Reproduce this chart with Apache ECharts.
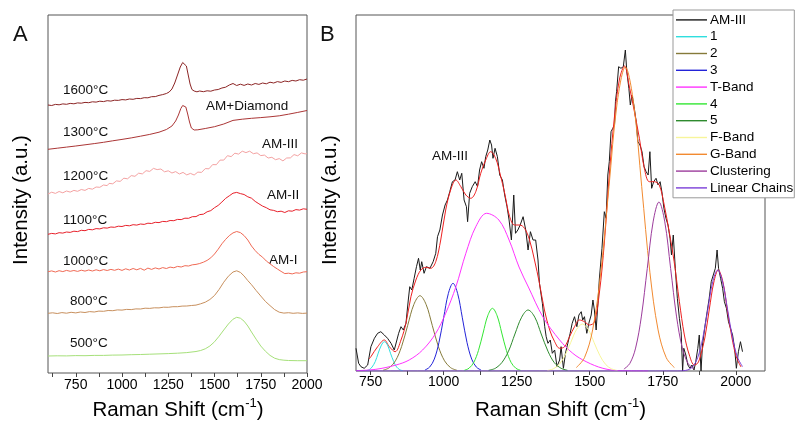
<!DOCTYPE html>
<html><head><meta charset="utf-8">
<script src="https://cdn.jsdelivr.net/npm/echarts@6/dist/echarts.min.js"></script>
<style>html,body{margin:0;padding:0;background:#fff}#c{width:795px;height:423px}</style>
</head><body><div id="c"></div>
<script>
const FONT = '"Liberation Sans", Arial, Helvetica, sans-serif';

// ---------- Panel A : spectra (Raman shift, offset intensity) ----------
const ticksA = [625,750,875,1000,1125,1250,1375,1500,1625,1750,1875,2000];
const labelsA = [750,1000,1250,1500,1750,2000];
const a1600 = [[600,268],[620,267.5],[640,268.6],[660,268.2],[680,269.1],[700,268.7],[720,269.6],[740,269.2],[760,270.1],[780,269.8],[800,270.6],[820,270.3],[840,271.2],[860,270.9],[880,271.8],[900,271.4],[920,272.3],[940,271.9],[960,272.8],[980,272.6],[1000,273.4],[1020,273.1],[1040,274.0],[1060,273.7],[1080,274.6],[1100,274.4],[1120,275.3],[1140,275.2],[1160,276.3],[1180,276.4],[1200,277.6],[1220,278.4],[1240,279.5],[1255,281],[1270,284],[1285,290],[1300,298],[1315,306],[1328,310.5],[1338,311],[1348,307],[1358,298],[1368,289],[1378,283.5],[1390,282],[1405,281.2],[1420,282],[1440,281.3],[1460,282.2],[1480,281.8],[1500,283],[1520,283.5],[1540,285],[1560,285.8],[1580,288],[1600,289.5],[1620,287.5],[1640,288.8],[1660,287.6],[1680,289],[1700,288],[1720,289.5],[1740,288.6],[1760,290],[1780,289.2],[1800,290.8],[1820,290],[1840,291.4],[1860,290.6],[1880,292],[1900,291.3],[1920,292.6],[1940,292],[1960,293.3],[1980,292.8],[2000,294]];
const a1300 = [[600,223.7],[650,224.8],[700,225.9],[750,227],[800,228.2],[850,229.4],[900,230.7],[950,232.2],[1000,233.6],[1050,235.1],[1100,236.8],[1150,238.6],[1200,240.8],[1240,243.5],[1270,247],[1290,252],[1305,258],[1318,264.5],[1328,267.5],[1336,268.2],[1345,266],[1355,259],[1365,251],[1375,245],[1390,243],[1410,243.2],[1450,244.5],[1500,246.3],[1550,249],[1600,252.6],[1650,253.8],[1700,254.7],[1750,255.4],[1800,256.2],[1850,257.2],[1900,258.8],[1950,260.6],[2000,262.5]];
const a1200 = [[600,179],[610,180.4],[620,180.8],[630,179.4],[640,179.6],[650,181],[660,181.5],[670,180],[680,180.2],[690,181.8],[700,182],[710,180.5],[720,180.9],[730,182.3],[740,182.6],[750,181.2],[760,181.7],[770,183.2],[780,183.5],[790,182.2],[800,182.6],[810,184.2],[820,184.6],[830,183.3],[840,183.8],[850,185.6],[860,186],[870,185.1],[880,185.7],[890,187.6],[900,188],[910,186.9],[920,187.4],[930,189.6],[940,190],[950,189.2],[960,189.9],[970,192.1],[980,192.5],[990,191.6],[1000,192.3],[1010,194.8],[1020,195.3],[1030,194.2],[1040,195],[1050,197.4],[1060,197.8],[1070,196.7],[1080,197.4],[1090,199.8],[1100,200.3],[1110,199.1],[1120,200],[1130,202.3],[1140,202.8],[1150,201.6],[1160,202.4],[1170,204.6],[1180,205],[1190,203.4],[1200,202.6],[1210,204],[1220,203.2],[1230,201.2],[1240,200.5],[1250,202.2],[1260,201.8],[1270,200],[1280,199.5],[1290,201.4],[1300,201],[1310,199],[1320,198.7],[1330,200.6],[1340,200.2],[1350,198.1],[1360,197.5],[1370,199.6],[1380,199.3],[1390,198],[1400,198.6],[1410,200.9],[1420,201.5],[1430,200.6],[1440,201.8],[1450,204.4],[1460,205],[1470,204.2],[1480,205.6],[1490,208.4],[1500,209],[1510,208.3],[1520,209.8],[1530,212.9],[1540,213.5],[1550,212.9],[1560,214.2],[1570,217.3],[1580,217.8],[1590,216.4],[1600,217.2],[1610,219.8],[1620,220.4],[1630,218.9],[1640,219.6],[1650,221.8],[1660,222.2],[1670,220.4],[1680,220],[1690,221.8],[1700,221.4],[1710,219.3],[1720,218.8],[1730,220.1],[1740,219.6],[1750,217.4],[1760,216.8],[1770,217.9],[1780,217.3],[1790,215],[1800,214.6],[1810,215.7],[1820,215.2],[1830,213.3],[1840,212.8],[1850,214.4],[1860,214],[1870,212.1],[1880,212.5],[1890,215],[1900,215.6],[1910,215.1],[1920,216],[1930,218.4],[1940,219],[1950,217.2],[1960,217.6],[1970,220.1],[1980,220.5],[1990,219.1],[2000,219.5]];
const a1100 = [[600,138.7],[620,139.6],[640,139.1],[660,140.3],[680,139.9],[700,141],[720,140.6],[740,141.8],[760,141.4],[780,142.7],[800,142.3],[820,143.6],[840,143.2],[860,144.4],[880,144.1],[900,145.2],[920,144.9],[940,146],[960,145.7],[980,146.8],[1000,146.5],[1020,147.6],[1040,147.2],[1060,148.3],[1080,147.9],[1100,149],[1120,148.6],[1140,149.8],[1160,149.5],[1180,150.7],[1200,150.4],[1220,151.6],[1240,151.3],[1260,152.5],[1280,152.3],[1300,153.6],[1320,153.4],[1340,154.8],[1360,154.7],[1380,156.3],[1400,156.4],[1420,158.4],[1440,158.8],[1460,161.2],[1480,162.4],[1500,165.3],[1520,167.6],[1540,171],[1560,174.6],[1580,177.2],[1600,179.8],[1620,180.6],[1640,179.4],[1660,178.5],[1680,176.2],[1700,174.8],[1720,171.6],[1740,169.2],[1760,166.9],[1780,165.3],[1800,163.2],[1820,162.6],[1840,161.3],[1860,161.8],[1880,160.5],[1900,162.2],[1920,161.8],[1940,163.4],[1960,162.9],[1980,164.2],[2000,163.7]];
const a1000 = [[600,101.3],[620,102.1],[640,101],[660,102.3],[680,101.4],[700,102.6],[720,101.7],[740,102.5],[760,101.6],[780,102.8],[800,101.9],[820,103],[840,102],[860,103.2],[880,102.2],[900,103.4],[920,102.5],[940,103.6],[960,102.7],[980,103.9],[1000,102.6],[1020,104.2],[1040,103],[1060,104.5],[1080,103.2],[1100,104.6],[1120,102.8],[1140,104.9],[1160,103.6],[1180,105.1],[1200,104],[1220,105.4],[1240,104.5],[1260,105.9],[1280,105.2],[1300,106.6],[1320,106],[1340,107.3],[1360,107],[1380,108.2],[1400,108.6],[1420,109.5],[1440,110.8],[1460,112.6],[1480,115.2],[1500,119],[1520,123.8],[1540,129.2],[1560,133.6],[1580,137.4],[1600,140.1],[1620,141.5],[1640,140.4],[1660,137.4],[1680,133],[1700,127],[1720,122.4],[1740,118.6],[1760,115.8],[1780,112],[1800,109.2],[1820,106.4],[1840,104],[1860,101.6],[1880,99.4],[1900,99.8],[1920,99.1],[1940,100.2],[1960,99.8],[1980,101],[2000,101.3]];
const a800 = [[600,59.7],[625,60.2],[650,59.5],[675,60.4],[700,59.8],[725,60.7],[750,60.1],[775,61],[800,60.5],[825,61.4],[850,61],[875,61.9],[900,61.7],[925,62.5],[950,62.3],[975,63.1],[1000,62.9],[1025,63.6],[1050,63.4],[1075,64.1],[1100,64],[1125,64.8],[1150,64.6],[1175,65.2],[1200,65.1],[1225,65.8],[1250,65.7],[1275,66.3],[1300,66.3],[1325,66.9],[1350,67],[1375,67.5],[1400,67.9],[1425,69.2],[1450,70.8],[1475,73.5],[1500,77.5],[1525,83.6],[1550,90.8],[1575,96.8],[1600,101],[1620,102.2],[1640,100.6],[1660,97],[1680,92.4],[1700,88.3],[1725,82.5],[1750,77],[1775,71.6],[1800,67.4],[1825,63.4],[1850,60.8],[1875,59.9],[1900,60.3],[1925,59.7],[1950,60.1],[1975,59.6],[2000,59.9]];
const a500 = [[600,17],[650,17.2],[700,17.1],[750,17.4],[800,17.3],[850,17.6],[900,17.6],[950,17.9],[1000,18],[1050,18.3],[1100,18.5],[1150,18.8],[1200,19.1],[1250,19.4],[1300,19.8],[1350,20.4],[1400,21.5],[1425,22.5],[1450,24.2],[1475,27],[1500,31.2],[1525,36.8],[1550,43],[1575,49],[1600,53.8],[1620,55.7],[1640,54.8],[1660,51.8],[1680,47],[1700,41],[1725,33.8],[1750,27],[1775,21.8],[1800,17.6],[1825,14.8],[1850,13.4],[1875,12.8],[1900,12.5],[1950,12.3],[2000,12.3]];

// ---------- Panel B : AM-III spectrum and fitted bands ----------
const ticksB = [750,875,1000,1125,1250,1375,1500,1625,1750,1875,2000];
const labelsB = [750,1000,1250,1500,1750,2000];
const bAM3 = [[700,22.7],[709,7.7],[717,4.3],[728,2.7],[740,6],[751,24.3],[763,32.7],[774,37.7],[785,39.3],[797,36],[808,32.7],[820,27.7],[831,21],[837,22.7],[846,37.7],[854,44.3],[862,41],[871,47.7],[879,71],[884,84.3],[891,81],[899,92.7],[907,104.3],[914,112.7],[920,101],[925,109.3],[933,97.7],[941,104.3],[953,102.7],[964,109.3],[973,117.7],[979,134.3],[987,141],[996,156],[1005,166],[1013,171],[1021,179.3],[1030,189.3],[1039,191],[1047,199.3],[1055,191],[1062,197.7],[1070,171],[1078,164.3],[1082,149.3],[1089,177.7],[1098,184.3],[1108,189.3],[1116,184.3],[1123,201],[1130,209.3],[1138,202.7],[1144,214.3],[1151,221],[1158,231],[1164,226],[1169,212.7],[1176,222.7],[1184,214.3],[1192,196],[1201,191],[1209,176],[1217,164.3],[1224,151],[1232,131],[1240,176],[1246,137.7],[1254,141],[1262,146],[1272,154.3],[1281,141],[1289,121],[1297,139.3],[1306,131],[1315,131],[1323,111],[1328,87.7],[1338,67.7],[1346,44.3],[1351,34.3],[1357,27.7],[1365,31],[1372,17.7],[1380,21],[1388,4.3],[1397,11],[1402,24.3],[1410,2.7],[1417,17.7],[1425,27.7],[1433,37.7],[1440,47.7],[1448,54.3],[1456,44.3],[1463,56],[1471,59.3],[1476,51],[1482,54.3],[1490,37.7],[1497,47.7],[1505,56],[1511,71],[1516,61],[1522,41],[1528,67.7],[1533,92],[1542,122.7],[1550,159.3],[1556,152.7],[1562,196],[1567,209.3],[1573,239.3],[1579,242.7],[1585,246],[1588,269.3],[1592,279.3],[1599,304.3],[1607,302.7],[1615,304.3],[1622,321],[1627,299.3],[1634,282.7],[1639,266],[1645,276],[1652,264.3],[1659,249.3],[1665,229.3],[1672,226],[1679,219.3],[1686,204.3],[1693,199.3],[1700,196],[1706,219.3],[1712,182.7],[1719,189.3],[1727,192.7],[1734,186],[1741,189.3],[1747,179.3],[1754,162.7],[1761,152.7],[1768,146],[1775,132.7],[1780,116],[1786,136],[1793,102.7],[1800,72.7],[1807,52.7],[1813,39.3],[1818,0],[1822,22.7],[1829,16],[1836,6],[1843,2.7],[1850,6],[1857,1],[1863,9.3],[1870,22.7],[1875,36],[1881,0],[1886,26],[1895,46],[1902,59.3],[1909,72.7],[1916,89.3],[1923,96],[1930,102.7],[1936,121],[1941,102.7],[1948,92.7],[1955,82.7],[1961,69.3],[1968,62.7],[1975,49.3],[1982,42.7],[1989,36],[1996,22.7],[2002,2.7],[2009,19.3],[2016,29.3],[2023,19.3]];
const bFit = [[745,12],[751,14.3],[774,24.3],[797,31],[814,24.3],[834,19.3],[854,31],[871,47.7],[888,74.3],[905,91],[922,101],[939,103.7],[956,102.7],[973,109.3],[990,131],[1007,161],[1024,181],[1042,191],[1059,184.3],[1076,176],[1093,172.7],[1110,179.3],[1127,197.7],[1144,211],[1161,219.3],[1178,212.7],[1195,195],[1209,177.7],[1226,154.3],[1243,146],[1260,146],[1277,142.7],[1294,131],[1311,111],[1328,87.7],[1345,61],[1363,41],[1380,29.3],[1397,22.7],[1414,24.3],[1431,34.3],[1448,44.3],[1465,51],[1482,49.3],[1499,46],[1516,49],[1533,78],[1550,128],[1568,200],[1585,255],[1602,292],[1619,305],[1636,284],[1653,259.3],[1670,232.7],[1687,202.7],[1704,189.3],[1721,189.3],[1738,186],[1755,166],[1772,139.3],[1789,109.3],[1807,69.3],[1824,36],[1841,16],[1858,6],[1870,8],[1880,16],[1894,33],[1909,61],[1925,89],[1940,101],[1956,89],[1971,61],[1987,33],[2002,14],[2018,4]];
const band1 = [[734,0.3],[745,1.3],[755,4.0],[766,9.5],[776,17.8],[787,25.9],[797,29.3],[808,25.9],[818,17.8],[829,9.5],[839,4.0],[850,1.3],[860,0.3]];
const band2 = [[793,0.8],[814,3.3],[835,10.2],[856,24.4],[877,45.7],[898,66.5],[919,75.3],[940,66.5],[961,45.7],[982,24.4],[1003,10.2],[1024,3.3],[1045,0.8]];
const band3 = [[936,1.0],[952,3.9],[968,11.9],[984,28.5],[1000,53.2],[1016,77.4],[1032,87.7],[1048,77.4],[1064,53.2],[1080,28.5],[1096,11.9],[1112,3.9],[1128,1.0]];
const bandT = [[700,0.3],[768,1.7],[837,6],[882,11],[928,21],[973,37.7],[1007,57.7],[1042,84.3],[1076,117.7],[1110,144.3],[1147,157.7],[1189,151],[1224,131],[1258,104],[1290,84],[1340,54],[1397,31],[1442,17.7],[1488,9.3],[1545,2.7],[1602,0.3],[1700,0]];
const band4 = [[1071,0.7],[1087,2.8],[1103,8.5],[1119,20.4],[1135,38.0],[1151,55.3],[1167,62.7],[1183,55.3],[1199,38.0],[1215,20.4],[1231,8.5],[1247,2.8],[1263,0.7]];
const band5 = [[1154,0.7],[1177,2.7],[1199,8.3],[1222,19.8],[1244,37.0],[1267,53.8],[1289,61],[1312,53.8],[1334,37.0],[1357,19.8],[1379,8.3],[1402,2.7],[1424,0.7]];
const bandF = [[1355,0.5],[1375,2.1],[1395,6.4],[1415,15.3],[1435,28.5],[1455,41.5],[1475,47],[1495,41.5],[1515,28.5],[1535,15.3],[1555,6.4],[1575,2.1],[1595,0.5]];
const bandG = [[1454,3.4],[1482,13.3],[1510,41.1],[1538,98.7],[1566,184.4],[1594,268.3],[1622,304],[1650,268.3],[1678,184.4],[1706,98.7],[1734,41.1],[1762,13.3],[1790,3.4]];
const bandC = [[1617,1.9],[1637,7.4],[1657,22.9],[1677,54.9],[1697,102.5],[1717,149.1],[1737,169],[1757,149.1],[1777,102.5],[1797,54.9],[1817,22.9],[1837,7.4],[1857,1.9]];
const bandL = [[700,0],[1800,0],[1836,1.1],[1853,4.4],[1870,13.7],[1887,32.8],[1904,61.3],[1921,89.1],[1938,101],[1955,89.1],[1972,61.3],[1989,32.8],[2006,13.7],[2023,4.4]];
const legendNames = ['AM-III','1','2','3','T-Band','4','5','F-Band','G-Band','Clustering','Linear Chains'];

function ln(name, data, color, g, smooth, width) {
  return {
    type: 'line', name: name, data: data, xAxisIndex: g, yAxisIndex: g,
    symbol: 'none', showSymbol: false, smooth: smooth ? 0.35 : false,
    lineStyle: { color: color, width: width || 1 }, itemStyle: { color: color },
    silent: true, animation: false
  };
}

const chart = echarts.init(document.getElementById('c'), null, { renderer: 'canvas' });
const axisX = (g, min, max, ticks, labels, margin) => ({
  gridIndex: g, type: 'value', min: min, max: max,
  axisLine: { show: false }, splitLine: { show: false },
  axisTick: { show: true, length: 4, lineStyle: { color: '#444' }, customValues: ticks },
  axisLabel: { customValues: labels, fontSize: 14, color: '#000', fontFamily: FONT, margin: margin, formatter: v => String(v) }
});
function txt(x, y, s, size, align) {
  return { type: 'text', x: x, y: y, style: { text: s, fontSize: size, fontFamily: FONT, fill: '#111', align: align || 'left', verticalAlign: 'middle' } };
}
const richTitle = { n: { fontSize: 20.5, fontFamily: FONT, fill: '#000', color: '#000', lineHeight: 26 }, s: { fontSize: 13, fontFamily: FONT, color: '#000', verticalAlign: 'top', lineHeight: 14 } };
function xTitle(x) {
  return { type: 'text', x: x, y: 410, style: { text: '{n|Raman Shift (cm}{s|-1}{n|)}', rich: richTitle, align: 'center', verticalAlign: 'middle', fill: '#000' } };
}
function yTitle(x) {
  return { type: 'text', x: x, y: 200, rotation: Math.PI / 2, style: { text: 'Intensity (a.u.)', fontSize: 20.5, fontFamily: FONT, fill: '#000', align: 'center', verticalAlign: 'middle' } };
}

chart.setOption({
  animation: false,
  backgroundColor: '#fff',
  grid: [
    { left: 48, top: 15, width: 259, height: 358, show: true, borderColor: '#555', borderWidth: 1 },
    { left: 356, top: 15, width: 409, height: 356, show: true, borderColor: '#555', borderWidth: 1 }
  ],
  xAxis: [axisX(0, 600, 2000, ticksA, labelsA, 5), axisX(1, 700, 2100, ticksB, labelsB, 4)],
  yAxis: [
    { gridIndex: 0, type: 'value', min: 0, max: 358, show: false },
    { gridIndex: 1, type: 'value', min: 0, max: 356, show: false }
  ],
  legend: {
    data: legendNames.map(n => ({ name: n, icon: 'rect' })), orient: 'vertical', left: 673, top: 10,
    padding: [1.5, 1, 1.5, 3], itemGap: 0, itemWidth: 31, itemHeight: 1.4,
    backgroundColor: '#fff', borderColor: '#999', borderWidth: 1, borderRadius: 0,
    selectedMode: false,
    textStyle: { fontSize: 13.5, fontFamily: FONT, color: '#000', lineHeight: 16.8, padding: [0, 0, 0, -2] }
  },
  graphic: [
    txt(13, 35, 'A', 22), txt(320, 35, 'B', 22),
    yTitle(21), yTitle(330), xTitle(178), xTitle(560.5),
    txt(63, 90.7, '1600°C', 13.5), txt(63, 132.7, '1300°C', 13.5), txt(63, 176.7, '1200°C', 13.5),
    txt(63, 220.7, '1100°C', 13.5), txt(63, 261.7, '1000°C', 13.5), txt(70, 301.7, '800°C', 13.5),
    txt(70, 343.3, '500°C', 13.5),
    txt(206, 106.7, 'AM+Diamond', 13.5), txt(262, 144, 'AM-III', 13.5), txt(267, 195, 'AM-II', 13.5),
    txt(269, 260, 'AM-I', 13.5), txt(432, 156.7, 'AM-III', 13.5)
  ],
  series: [
    ln('1600°C', a1600, '#8c2525', 0),
    ln('1300°C', a1300, '#ab3636', 0),
    ln('1200°C', a1200, '#f4a2a2', 0),
    ln('1100°C', a1100, '#e8202a', 0),
    ln('1000°C', a1000, '#f06a55', 0),
    ln('800°C', a800, '#c8905e', 0),
    ln('500°C', a500, '#a6e07a', 0),
    ln('AM-III', bAM3, '#1a1a1a', 1),
    ln('Fit', bFit, '#ee2020', 1, true),
    ln('1', band1, '#30dede', 1, true),
    ln('2', band2, '#857a3a', 1, true),
    ln('3', band3, '#2323d8', 1, true),
    ln('T-Band', bandT, '#ff33ff', 1, true),
    ln('4', band4, '#33e633', 1, true),
    ln('5', band5, '#2e8a2e', 1, true),
    ln('F-Band', bandF, '#f7f59a', 1, true),
    ln('G-Band', bandG, '#f28a30', 1, true),
    ln('Clustering', bandC, '#9c3c9c', 1, true),
    ln('Linear Chains', bandL, '#7b3fd8', 1, true)
  ]
});
</script>
</body></html>
